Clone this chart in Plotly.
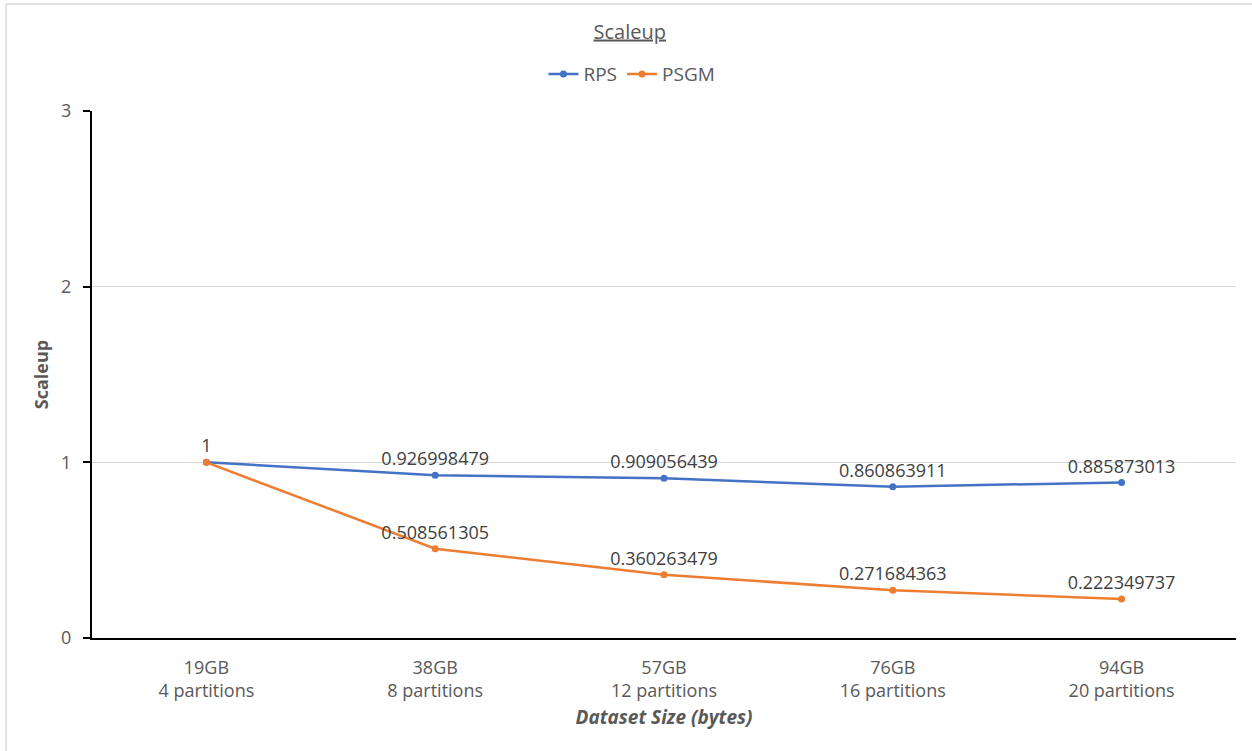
import plotly.graph_objects as go

categories = ["19GB<br>4 partitions", "38GB<br>8 partitions", "57GB<br>12 partitions",
              "76GB<br>16 partitions", "94GB<br>20 partitions"]
rps = [1, 0.926998479, 0.909056439, 0.860863911, 0.885873013]
psgm = [1, 0.508561305, 0.360263479, 0.271684363, 0.222349737]
rps_labels = ["1", "0.926998479", "0.909056439", "0.860863911", "0.885873013"]
psgm_labels = ["", "0.508561305", "0.360263479", "0.271684363", "0.222349737"]

FONT = "Open Sans"
GRAY = "#595959"
LABEL = "#404040"

fig = go.Figure()
fig.add_trace(go.Scatter(
    x=categories, y=rps, name="RPS", mode="lines+markers+text",
    line=dict(color="#4472C4", width=2.5), marker=dict(size=7, color="#4472C4"),
    text=rps_labels, textposition="top center",
    textfont=dict(family=FONT, size=18, color=LABEL),
))
fig.add_trace(go.Scatter(
    x=categories, y=psgm, name="PSGM", mode="lines+markers+text",
    line=dict(color="#ED7D31", width=2.5), marker=dict(size=7, color="#ED7D31"),
    text=psgm_labels, textposition="top center",
    textfont=dict(family=FONT, size=18, color=LABEL),
))

# Chart-area border (top and left edges)
fig.add_shape(type="line", xref="paper", yref="paper", x0=-0.0752, x1=1.05, y0=1.203, y1=1.203,
              line=dict(color="#d9d9d9", width=1.5))
fig.add_shape(type="line", xref="paper", yref="paper", x0=-0.0752, x1=-0.0752, y0=-0.3, y1=1.203,
              line=dict(color="#d9d9d9", width=1.5))

fig.update_layout(
    width=1252, height=751,
    margin=dict(l=92, r=16, t=111, b=113, autoexpand=False),
    paper_bgcolor="white", plot_bgcolor="white",
    font=dict(family=FONT, color=GRAY),
    title=dict(text="<u>Scaleup</u>", x=0.503, xanchor="center", y=0.958, yanchor="middle",
               font=dict(family=FONT, size=20, color=GRAY)),
    legend=dict(orientation="h", x=0.472, xanchor="center",
                y=1.07, yanchor="middle",
                font=dict(family=FONT, size=19, color=GRAY),
                tracegroupgap=0),
    showlegend=True,
)
fig.update_xaxes(
    type="category", range=[-0.5, 4.5],
    showline=True, linecolor="black", linewidth=2,
    showgrid=False, ticks="", ticklabelstandoff=12, tickangle=0,
    tickfont=dict(family=FONT, size=18, color=GRAY),
    title=dict(text="<b><i>Dataset Size (bytes)</i></b>", standoff=10,
               font=dict(family=FONT, size=19, color=GRAY)),
)
fig.update_yaxes(
    range=[0, 3], tickvals=[0, 1, 2, 3],
    showline=True, linecolor="black", linewidth=2,
    ticks="outside", ticklen=7, tickwidth=2, tickcolor="black",
    showgrid=True, gridcolor="#d9d9d9", gridwidth=1,
    zeroline=False, ticklabelstandoff=8,
    tickfont=dict(family=FONT, size=18, color=GRAY),
    title=dict(text="<b>Scaleup</b>", standoff=8,
               font=dict(family=FONT, size=18, color=GRAY)),
)

fig.write_html("out.html")
